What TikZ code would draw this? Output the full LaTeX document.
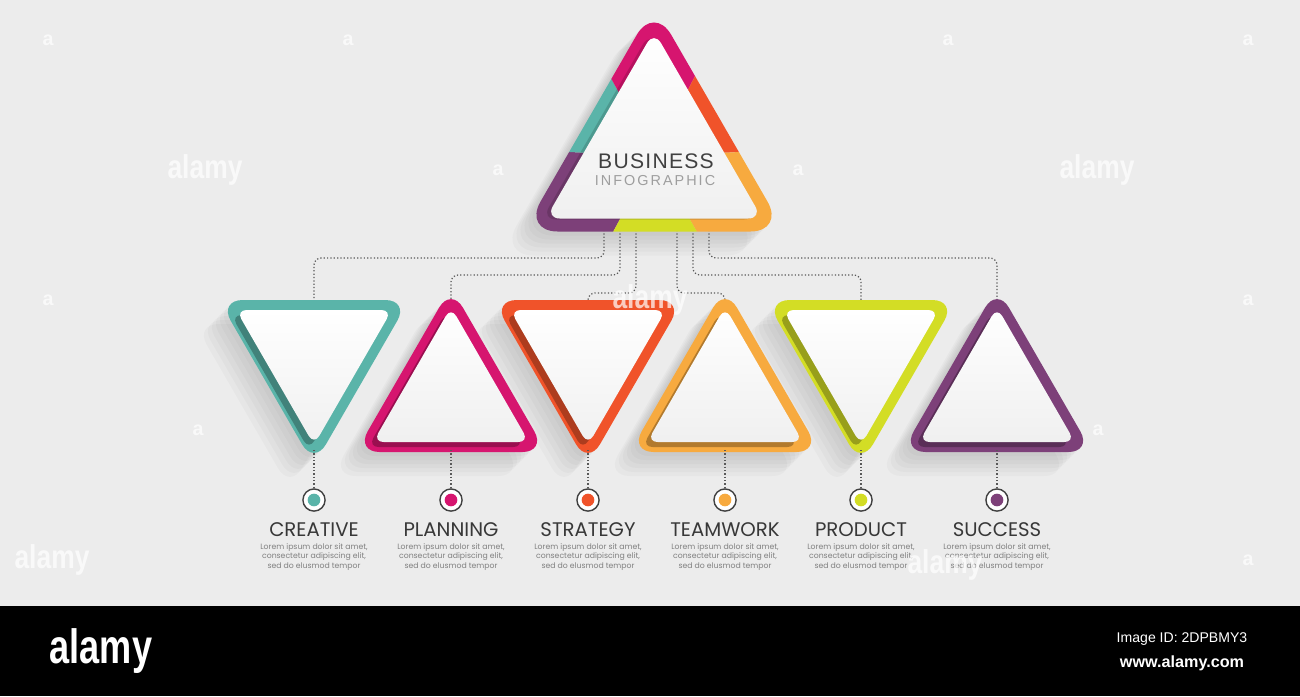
\documentclass[tikz,border=0pt]{standalone}
\usepackage{fontspec}
\usepackage{graphicx}
\setmainfont{Poppins}
\newfontfamily\headfont[LetterSpace=6]{Liberation Sans}
\newfontfamily\subfont[LetterSpace=14]{Liberation Sans}
\newfontfamily\logofont{Liberation Sans}
\usetikzlibrary{calc,positioning}

\definecolor{bgc}{HTML}{ECECEC}
\definecolor{cteal}{HTML}{5AB4A9}
\definecolor{cmag}{HTML}{D6156F}
\definecolor{cred}{HTML}{F0532A}
\definecolor{corg}{HTML}{F7AA3F}
\definecolor{clime}{HTML}{D3DD25}
\definecolor{cpur}{HTML}{7D4079}

\tikzset{
  conn/.style={draw=black!65, line width=0.35pt, dash pattern=on 0.35pt off 0.6pt, rounded corners=2pt},
  dotring/.style={circle, draw=black!75, line width=0.4pt, fill=white, minimum size=6.3pt, inner sep=0pt},
  title/.style={font=\fontsize{5.6pt}{6.5pt}\selectfont, text=black!78, inner sep=0pt},
  desc/.style={font=\fontsize{2.2pt}{2.6pt}\selectfont, text=black!50, align=center, inner sep=0pt},
  wmark/.style={font=\logofont\bfseries\fontsize{9.4pt}{10pt}\selectfont, text=white, opacity=0.7},
  wsmall/.style={font=\logofont\bfseries\fontsize{5.6pt}{6pt}\selectfont, text=white, opacity=0.7}
}

\begin{document}
\begin{tikzpicture}[x=0.01cm, y=-0.01cm]
% background
\fill[bgc] (0,0) rectangle (1300,696);

% watermarks
\foreach \wx/\wy in {205/170, 1097/170, 52/560}
  \node[wmark] at (\wx,\wy) {\scalebox{0.8}[1]{alamy}};
\foreach \wx/\wy in {48/40, 348/40, 948/40, 1248/40, 498/170, 798/170, 48/300, 1248/300, 198/430, 1098/430, 1248/560}
  \node[wsmall] at (\wx,\wy) {a};

% soft shadows
\foreach \cx/\cy/\ang in {314/355/90, 451/397/270, 588/355/90, 725/397/270, 861/355/90, 997/397/270}{
  \foreach \k in {1,...,6}
    \fill[black, opacity=0.025, rounded corners=6.8pt, shift={(\cx-4*\k,\cy+4*\k)}]
      (\ang:110) -- (\ang+120:110) -- (\ang+240:110) -- cycle;
}
\foreach \k in {1,...,6}
  \fill[black, opacity=0.025, rounded corners=9.8pt, shift={(654-4*\k,156+4*\k)}]
    (270:151) -- (30:151) -- (150:151) -- cycle;

% start points under the top triangle
\foreach \j/\sx in {1/604, 2/620, 3/636, 4/677, 5/693, 6/709}
  \coordinate (s\j) at (\sx,230);
% top points of the lower triangles
\foreach \i/\cx in {1/314, 2/451, 3/588, 4/725, 5/861, 6/997}{
  \coordinate (t\i) at (\cx,302);
  \coordinate (b\i) at (\cx,450);
}

% dotted connectors
\draw[conn] (s1) -- ++(0,28) -| (t1);
\draw[conn] (s2) -- ++(0,45) -| (t2);
\draw[conn] (s3) -- ++(0,63) -| (t3);
\draw[conn] (s4) -- ++(0,63) -| (t4);
\draw[conn] (s5) -- ++(0,45) -| (t5);
\draw[conn] (s6) -- ++(0,28) -| (t6);

% top triangle
\coordinate (g0) at (654,156);
\begin{scope}
  \clip[rounded corners=9.8pt, shift={(g0)}] (270:151) -- (30:151) -- (150:151) -- cycle;
  \coordinate (pa) at (570,152);
  \coordinate (pb) at (612,80);
  \coordinate (pc) at (693,80);
  \coordinate (pd) at (740,152);
  \coordinate (pe) at (697,232);
  \coordinate (pf) at (613,232);
  \fill[cpur]  (g0) -- ($(g0)!5!(pf)$) -- ($(g0)!5!(pa)$) -- cycle;
  \fill[cteal] (g0) -- ($(g0)!5!(pa)$) -- ($(g0)!5!(pb)$) -- cycle;
  \fill[cmag]  (g0) -- ($(g0)!5!(pb)$) -- ($(g0)!5!(pc)$) -- cycle;
  \fill[cred]  (g0) -- ($(g0)!5!(pc)$) -- ($(g0)!5!(pd)$) -- cycle;
  \fill[corg]  (g0) -- ($(g0)!5!(pd)$) -- ($(g0)!5!(pe)$) -- cycle;
  \fill[clime] (g0) -- ($(g0)!5!(pe)$) -- ($(g0)!5!(pf)$) -- cycle;
  \fill[black, opacity=0.15, rounded corners=4pt, shift={(650,157)}]
    (270:125) -- (30:125) -- (150:125) -- cycle;
\end{scope}
\shade[top color=white, bottom color=black!6, rounded corners=4pt, shift={(g0)}]
  (270:125) -- (30:125) -- (150:125) -- cycle;
\node[font=\headfont\fontsize{6pt}{7pt}\selectfont, text=black!75, inner sep=0pt] (head) at (656,161) {BUSINESS};
\node[font=\subfont\fontsize{4.1pt}{5pt}\selectfont, text=black!38, inner sep=0pt] (sub) at (655,181) {INFOGRAPHIC};

% lower triangles, dots and texts
\foreach \i/\cx/\cy/\ang/\col/\name in {1/314/355/90/cteal/CREATIVE, 2/451/397/270/cmag/PLANNING,
    3/588/355/90/cred/STRATEGY, 4/725/397/270/corg/TEAMWORK,
    5/861/355/90/clime/PRODUCT, 6/997/397/270/cpur/SUCCESS}{
  \begin{scope}[shift={(\cx,\cy)}]
    \fill[\col, rounded corners=6.8pt] (\ang:110) -- (\ang+120:110) -- (\ang+240:110) -- cycle;
    \fill[\col!72!black, rounded corners=3pt, shift={(-5,5)}] (\ang:90) -- (\ang+120:90) -- (\ang+240:90) -- cycle;
    \shade[top color=white, bottom color=black!6, rounded corners=3pt] (\ang:90) -- (\ang+120:90) -- (\ang+240:90) -- cycle;
  \end{scope}
  \node[dotring] (c\i) at (\cx,500) {};
  \draw[conn] (b\i) -- (c\i);
  \fill[\col] (c\i.center) circle[radius=1.8pt];
  \node[title] (h\i) at (\cx,530) {\name};
  \node[desc] (d\i) at (\cx,557) {Lorem ipsum dolor sit amet,\\consectetur adipiscing elit,\\sed do elusmod tempor};
}

% watermarks over the chart
\node[wmark] at (650,300) {\scalebox{0.8}[1]{alamy}};
\node[wmark] at (945,565) {\scalebox{0.8}[1]{alamy}};

% bottom band
\fill[black] (0,606) rectangle (1300,696);
\node[font=\logofont\bfseries\fontsize{13.7pt}{14pt}\selectfont, text=white] (logo) at (101,651) {\scalebox{0.75}[1]{alamy}};
\node[font=\logofont\fontsize{4pt}{5pt}\selectfont, text=white] (imgid) at (1182,639) {Image ID: 2DPBMY3};
\node[font=\logofont\bfseries\fontsize{4.6pt}{5pt}\selectfont, text=white] (web) at (1182,663) {www.alamy.com};
\end{tikzpicture}
\end{document}
